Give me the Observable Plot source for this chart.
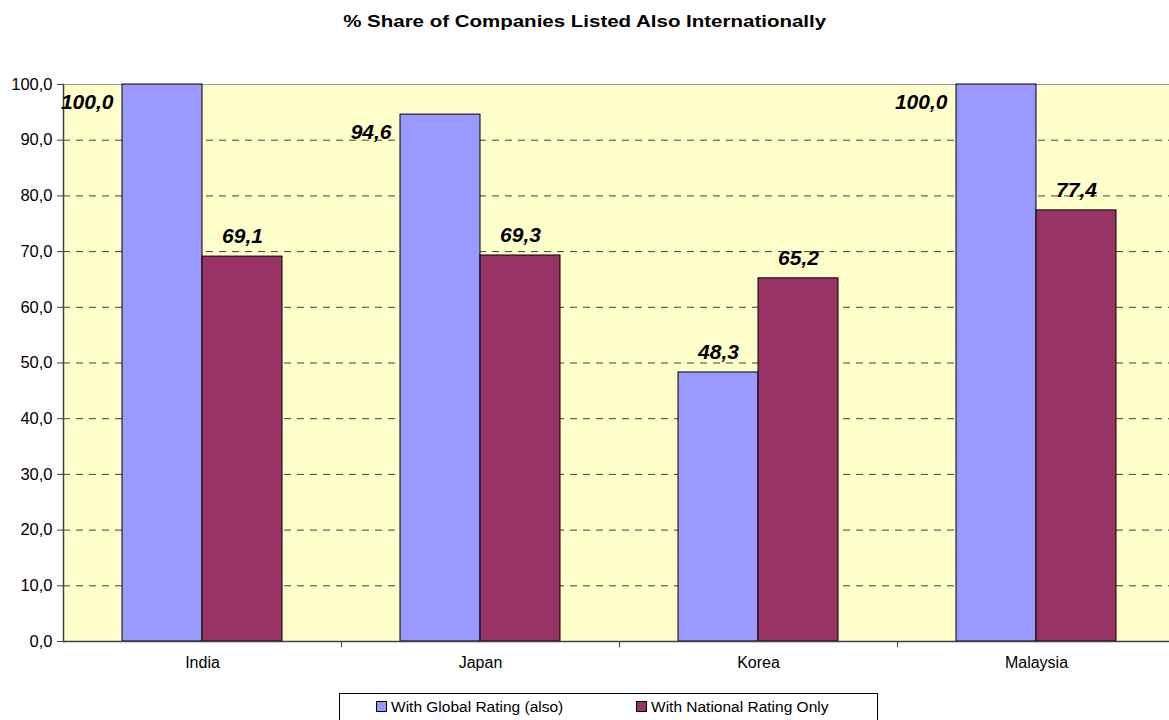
<!DOCTYPE html>
<html>
<head>
<meta charset="utf-8">
<script src="https://cdn.jsdelivr.net/npm/d3@7"></script>
<script src="https://cdn.jsdelivr.net/npm/@observablehq/plot@0.6"></script>
<style>
  html, body { margin: 0; padding: 0; background: #fff; overflow: hidden; }
  #wrap { position: relative; width: 1169px; height: 720px; overflow: hidden; font-family: "Liberation Sans", Arial, sans-serif; }
  #title { position: absolute; left: 0; top: 13px; width: 1169px; text-align: center; font-weight: bold; font-size: 16px; color: #000; transform: scaleX(1.28); transform-origin: 584px 0; }
  #chart { position: absolute; left: 0; top: 0; }
  #legend { position: absolute; left: 339px; top: 693px; width: 537px; height: 40px; border: 1px solid #000; background: #fff; font-size: 15.5px; color: #000; }
  .item { position: absolute; top: 4px; white-space: nowrap; }
  .sw { display: inline-block; width: 9px; height: 9px; border: 1px solid #000; margin-right: 4px; vertical-align: 0px; }
</style>
</head>
<body>
<div id="wrap">
  <div id="chart"></div>
  <div id="title">% Share of Companies Listed Also Internationally</div>
  <div id="legend"></div>
</div>
<script>
const countries = ["India", "Japan", "Korea", "Malaysia"];
const globalRating = [100.0, 94.6, 48.3, 100.0];
const nationalRating = [69.1, 69.3, 65.2, 77.4];
const seriesNames = ["With Global Rating (also)", "With National Rating Only"];
const seriesColors = ["#9999FF", "#993366"];
const yTicks = [0, 10, 20, 30, 40, 50, 60, 70, 80, 90, 100];

const data = [];
countries.forEach((c, i) => {
  data.push({country: c, series: seriesNames[0], value: globalRating[i]});
  data.push({country: c, series: seriesNames[1], value: nationalRating[i]});
});

const W = 1169, H = 720, mL = 63, mR = -6, mT = 84, mB = 79;
const step = (W - mL - mR) / countries.length;
const pInner = 1 - 160 / step;
const band = step * (1 - pInner);
const half = band / 2;
const fmt = d => d.toFixed(1).replace(".", ",");

const g = data.filter(d => d.series === seriesNames[0]);
const n = data.filter(d => d.series === seriesNames[1]);
const isHigh = d => d.value > 90;
const labelStyle = {fontSize: 21, fontWeight: "bold", fontStyle: "italic", fill: "#000"};

const chart = Plot.plot({
  width: W, height: H,
  marginTop: mT, marginBottom: mB, marginLeft: mL, marginRight: mR,
  style: {fontFamily: "'Liberation Sans', Arial, sans-serif", fontSize: "16px", color: "#000", background: "transparent"},
  x: {domain: countries, paddingInner: pInner, paddingOuter: pInner / 2, label: null},
  y: {domain: [0, 100], label: null},
  color: {domain: seriesNames, range: seriesColors},
  marks: [
    Plot.frame({fill: "#FFFFCC", stroke: null}),
    Plot.gridY(yTicks.filter(t => t > 0 && t < 100), {stroke: "#000", strokeOpacity: 0.75, strokeDasharray: "7,6"}),
    Plot.ruleY([100], {stroke: "#9a9a9a", strokeWidth: 1}),
    Plot.barY(g, {x: "country", y: "value", fill: "series", stroke: "#000", strokeWidth: 1, insetRight: half}),
    Plot.barY(n, {x: "country", y: "value", fill: "series", stroke: "#000", strokeWidth: 1, insetLeft: half}),
    Plot.ruleY([0], {stroke: "#404040", strokeWidth: 1.5}),
    Plot.frame({anchor: "left", stroke: "#404040", strokeWidth: 1.5}),
    Plot.ruleX(countries.slice(0, -1), {x: d => d, y1: 0, y2: 0, insetBottom: -6, dx: step / 2, stroke: "#404040"}),
    Plot.axisY({ticks: yTicks, tickFormat: fmt, tickSize: 6, tickPadding: 5, stroke: "#404040", fontSize: 16.5}),
    Plot.axisX({tickSize: 0, tickPadding: 15, fontSize: 16}),
    Plot.text(g.filter(d => !isHigh(d)), {x: "country", y: "value", text: d => fmt(d.value), dx: -half / 2, dy: -20, ...labelStyle}),
    Plot.text(n, {x: "country", y: "value", text: d => fmt(d.value), dx: half / 2, dy: -20, ...labelStyle}),
    Plot.text(g.filter(isHigh), {x: "country", y: "value", text: d => fmt(d.value), dx: -half - 9, dy: 18, textAnchor: "end", ...labelStyle})
  ]
});
document.getElementById("chart").appendChild(chart);

const legend = document.getElementById("legend");
const legendX = [36, 296];
seriesNames.forEach((s, i) => {
  const it = document.createElement("div");
  it.className = "item";
  it.style.left = legendX[i] + "px";
  it.innerHTML = `<span class="sw" style="background:${seriesColors[i]}"></span>${s}`;
  legend.appendChild(it);
});
</script>
</body>
</html>
